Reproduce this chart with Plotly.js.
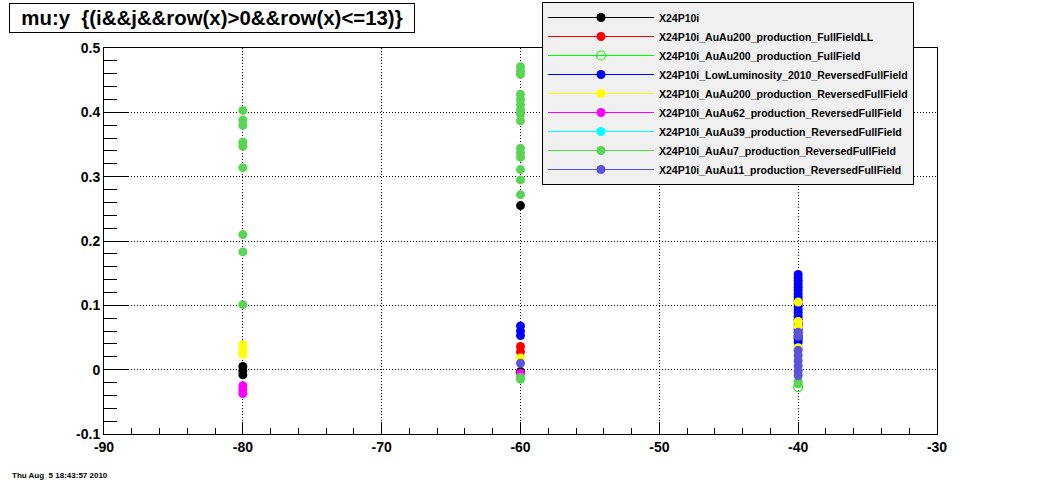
<!DOCTYPE html>
<html>
<head>
<meta charset="utf-8">
<script src="https://cdn.plot.ly/plotly-3.0.1.min.js"></script>
<style>html,body{margin:0;padding:0;background:#fff;}#plot{width:1043px;height:483px;}</style>
</head>
<body>
<div id="plot"></div>
<script>
// ---- data ----
var seriesNames = [
  "X24P10i",
  "X24P10i_AuAu200_production_FullFieldLL",
  "X24P10i_AuAu200_production_FullField",
  "X24P10i_LowLuminosity_2010_ReversedFullField",
  "X24P10i_AuAu200_production_ReversedFullField",
  "X24P10i_AuAu62_production_ReversedFullField",
  "X24P10i_AuAu39_production_ReversedFullField",
  "X24P10i_AuAu7_production_ReversedFullField",
  "X24P10i_AuAu11_production_ReversedFullField"
];
var seriesColors = ["#000000", "#ff0000", "#00ff00", "#0000ff", "#ffff00", "#ff00ff", "#00ffff", "#59d454", "#5954d9"];
var seriesSymbols = ["circle", "circle", "circle-open", "circle", "circle", "circle", "circle", "circle", "circle"];

var blackX = [-80, -80, -80, -60, -60];
var blackY = [0.005, -0.002, -0.008, 0.255, -0.003];

var redX = [-60, -60, -40, -40];
var redY = [0.036, 0.028, 0.050, 0.034];

var greenOpenX = [-40];
var greenOpenY = [-0.027];

var blueX = [-60, -60, -60,
  -40, -40, -40, -40, -40, -40, -40, -40, -40, -40, -40,
  -40, -40, -40, -40, -40, -40, -40, -40, -40, -40, -40];
var blueY = [0.068, 0.060, 0.053,
  0.148, 0.143, 0.138, 0.133, 0.128, 0.123, 0.118, 0.113, 0.108, 0.103, 0.098,
  0.093, 0.088, 0.083, 0.078, 0.073, 0.068, 0.063, 0.058, 0.053, 0.048, 0.043];

var yellowX = [-80, -80, -80, -60, -40, -40, -40, -40];
var yellowY = [0.039, 0.031, 0.024, 0.018, 0.105, 0.075, 0.067, 0.034];

var magentaX = [-80, -80, -80, -60];
var magentaY = [-0.025, -0.031, -0.037, -0.006];

var cyanX = [];
var cyanY = [];

var green7X = [-80, -80, -80, -80, -80, -80, -80, -80, -80,
  -60, -60, -60, -60, -60, -60, -60, -60, -60, -60, -60, -60, -60, -60, -60, -60, -60,
  -40, -40];
var green7Y = [0.403, 0.388, 0.380, 0.354, 0.347, 0.314, 0.210, 0.183, 0.101,
  0.471, 0.464, 0.459, 0.428, 0.420, 0.412, 0.404, 0.397, 0.387, 0.344, 0.337, 0.330, 0.311, 0.295, 0.272, -0.012, -0.015,
  -0.018, -0.022];

var slateX = [-60, -40, -40, -40, -40, -40, -40, -40, -40];
var slateY = [0.010, 0.058, 0.052, 0.030, 0.022, 0.014, 0.006, -0.002, -0.009];

var xTickVals = [-90, -80, -70, -60, -50, -40, -30];
var xTickText = ["-90", "-80", "-70", "-60", "-50", "-40", "-30"];
var yTickVals = [-0.1, 0, 0.1, 0.2, 0.3, 0.4, 0.5];
var yTickText = ["-0.1", "0", "0.1", "0.2", "0.3", "0.4", "0.5"];

var titleText = "mu:y&nbsp; {(i&amp;&amp;j&amp;&amp;row(x)&gt;0&amp;&amp;row(x)&lt;=13)}";
var dateText = "Thu Aug&nbsp; 5 18:43:57 2010";

// ---- build ----
var xs = [blackX, redX, greenOpenX, blueX, yellowX, magentaX, cyanX, green7X, slateX];
var ys = [blackY, redY, greenOpenY, blueY, yellowY, magentaY, cyanY, green7Y, slateY];

var FONT = "Liberation Sans, Arial, Helvetica, sans-serif";
var traces = [];
for (var i = 0; i < seriesNames.length; i++) {
  traces.push({
    type: "scatter", mode: "markers", x: xs[i], y: ys[i], showlegend: false,
    name: seriesNames[i],
    marker: {color: seriesColors[i], size: 9, symbol: seriesSymbols[i],
             line: {width: seriesSymbols[i] === "circle-open" ? 1.2 : 0, color: seriesColors[i]}}
  });
}
for (var j = 0; j < seriesNames.length; j++) {
  traces.push({
    type: "scatter", mode: "lines+markers", x: [null], y: [null], showlegend: true,
    name: seriesNames[j],
    line: {color: seriesColors[j], width: 1},
    marker: {color: seriesColors[j], size: 9, symbol: seriesSymbols[j],
             line: {width: seriesSymbols[j] === "circle-open" ? 1.2 : 0, color: seriesColors[j]}}
  });
}

var GRIDDASH = "1px,2px";
var layout = {
  width: 1043, height: 483,
  margin: {l: 104, r: 106, t: 48, b: 49, autoexpand: false},
  paper_bgcolor: "#ffffff", plot_bgcolor: "#ffffff",
  font: {family: FONT, color: "#000000"},
  showlegend: true,
  legend: {
    x: (542 - 104) / 833, y: (434 - 2) / 386, xanchor: "left", yanchor: "top",
    bgcolor: "#f0f0f0", bordercolor: "#000000", borderwidth: 1,
    font: {family: FONT, size: 10.5, weight: "bold", color: "#000000"},
    itemwidth: 106, tracegroupgap: 0
  },
  xaxis: {
    range: [-90, -30], tickmode: "array", tickvals: xTickVals, ticktext: xTickText,
    ticks: "inside", ticklen: 12, tickcolor: "#000000", tickwidth: 1,
    showline: true, linecolor: "#000000", linewidth: 1, mirror: true,
    showgrid: true, gridcolor: "#000000", griddash: GRIDDASH, gridwidth: 1,
    zeroline: false,
    tickfont: {family: FONT, size: 14, weight: "bold"},
    minor: {tickmode: "linear", tick0: -90, dtick: 2, ticks: "inside", ticklen: 6, tickcolor: "#000000", showgrid: false}
  },
  yaxis: {
    range: [-0.1, 0.5], tickmode: "array", tickvals: yTickVals, ticktext: yTickText,
    ticks: "inside", ticklen: 25, tickcolor: "#000000", tickwidth: 1,
    showline: true, linecolor: "#000000", linewidth: 1, mirror: true,
    showgrid: true, gridcolor: "#000000", griddash: GRIDDASH, gridwidth: 1,
    zeroline: false,
    tickfont: {family: FONT, size: 14, weight: "bold"},
    minor: {tickmode: "linear", tick0: -0.1, dtick: 0.02, ticks: "inside", ticklen: 13, tickcolor: "#000000", showgrid: false}
  },
  annotations: [
    {text: titleText, xref: "paper", yref: "paper",
     x: (9 - 104) / 833, y: (434 - 3) / 386, xanchor: "left", yanchor: "top",
     showarrow: false, width: 402, height: 26, borderpad: 1, borderwidth: 1,
     bordercolor: "#000000", bgcolor: "#ffffff", align: "center",
     font: {family: FONT, size: 20.4, weight: "bold", color: "#000000"}},
    {text: dateText, xref: "paper", yref: "paper",
     x: (10 - 104) / 833, y: (434 - 475) / 386, xanchor: "left", yanchor: "middle",
     showarrow: false, font: {family: FONT, size: 8, weight: "bold", color: "#000000"}}
  ]
};

Plotly.newPlot("plot", traces, layout, {displayModeBar: false, staticPlot: true});
</script>
</body>
</html>
